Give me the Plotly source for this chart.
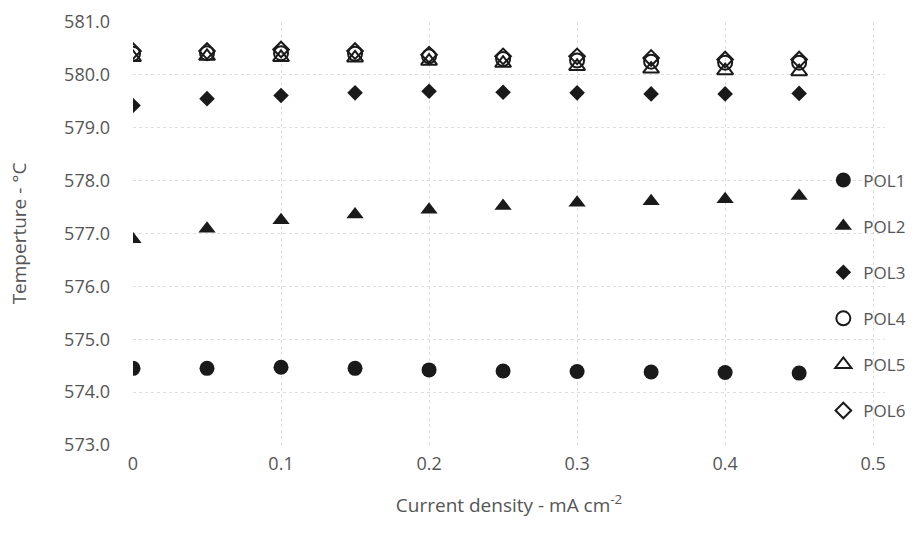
import plotly.graph_objects as go

current_density = [0, 0.05, 0.1, 0.15, 0.2, 0.25, 0.3, 0.35, 0.4, 0.45]

pol1 = [574.45, 574.45, 574.47, 574.45, 574.42, 574.40, 574.39, 574.38, 574.37, 574.36]
pol2 = [576.89, 577.09, 577.25, 577.36, 577.45, 577.52, 577.58, 577.61, 577.65, 577.71]
pol3 = [579.42, 579.55, 579.61, 579.66, 579.69, 579.67, 579.66, 579.64, 579.64, 579.65]
pol4 = [580.40, 580.41, 580.41, 580.40, 580.35, 580.30, 580.27, 580.25, 580.23, 580.23]
pol5 = [580.33, 580.35, 580.33, 580.32, 580.26, 580.22, 580.16, 580.11, 580.08, 580.06]
pol6 = [580.45, 580.45, 580.48, 580.45, 580.38, 580.35, 580.35, 580.32, 580.29, 580.29]

series_names = ["POL1", "POL2", "POL3", "POL4", "POL5", "POL6"]
series_values = [pol1, pol2, pol3, pol4, pol5, pol6]

y_ticks = [573, 574, 575, 576, 577, 578, 579, 580, 581]
x_ticks = [0, 0.1, 0.2, 0.3, 0.4, 0.5]
x_tick_labels = ["0", "0.1", "0.2", "0.3", "0.4", "0.5"]

ink = "#1a1a1a"
styles = [
    dict(symbol="circle", size=15, color=ink, line=dict(width=0)),
    dict(symbol="triangle-up", size=15, color=ink, line=dict(width=0)),
    dict(symbol="diamond", size=12, color=ink, line=dict(width=0)),
    dict(symbol="circle-open", size=14, color=ink, line=dict(width=2, color=ink)),
    dict(symbol="triangle-up-open", size=14, color=ink, line=dict(width=2, color=ink)),
    dict(symbol="diamond-open", size=12, color=ink, line=dict(width=2, color=ink)),
]

fig = go.Figure()
for name, vals, st in zip(series_names, series_values, styles):
    fig.add_trace(go.Scatter(
        x=current_density, y=vals, mode="markers", name=name,
        legendgroup=name, marker=st,
    ))

font_family = "Open Sans, Lato, sans-serif"
text_color = "#555555"
grid_color = "#dedede"

fig.update_layout(
    width=924, height=533,
    margin=dict(l=133, r=39, t=22, b=88, autoexpand=False),
    paper_bgcolor="white", plot_bgcolor="white",
    font=dict(family=font_family, color=text_color, size=18),
    showlegend=True,
    legend=dict(
        x=0.918, y=0.668, xanchor="left", yanchor="top",
        font=dict(size=17, color=text_color, family=font_family),
        tracegroupgap=21, itemwidth=30, bgcolor="rgba(0,0,0,0)",
    ),
    xaxis=dict(
        range=[0, 0.508], tickvals=x_ticks, ticktext=x_tick_labels,
        showgrid=True, gridcolor=grid_color, griddash="dot", gridwidth=1,
        zeroline=False, showline=False, ticks="", ticklabelstandoff=6,
        tickfont=dict(size=18, color=text_color),
        title=dict(text="Current density - mA cm<sup>-2</sup>",
                   font=dict(size=19, color=text_color), standoff=24),
    ),
    yaxis=dict(
        range=[573, 581], tickvals=y_ticks, tickformat=".1f",
        showgrid=True, gridcolor=grid_color, griddash="dot", gridwidth=1,
        zeroline=False, showline=False, ticks="", ticklabelstandoff=22,
        tickfont=dict(size=18, color=text_color),
        title=dict(text="Temperture - °C", font=dict(size=19, color=text_color), standoff=32),
    ),
)

fig.write_html("out.html")
